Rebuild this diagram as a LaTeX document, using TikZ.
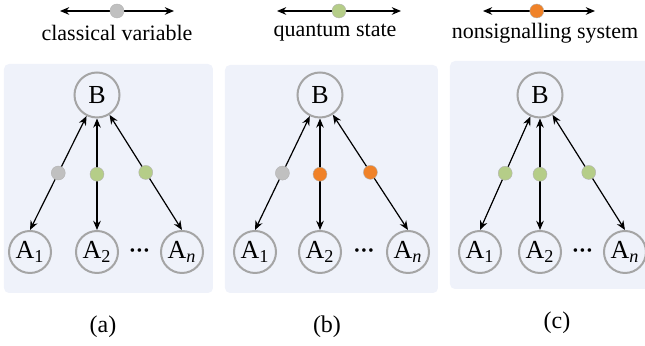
\documentclass[tikz,border=0pt]{standalone}
\usepackage{amsmath, amssymb}
\usepackage{fontspec}
\setmainfont{Liberation Serif}
\usetikzlibrary{arrows.meta, calc}
\definecolor{panel-bg}{RGB}{239, 242, 250}
\definecolor{ring-grey}{RGB}{165, 165, 165}
\definecolor{dot-grey}{RGB}{192, 192, 192}
\definecolor{dot-green}{RGB}{181, 205, 136}
\definecolor{dot-orange}{RGB}{240, 130, 40}

\begin{document}
\begin{tikzpicture}[x=0.5pt, y=-0.5pt,
        panel/.style={fill=panel-bg, rounded corners=2.5pt},
        party/.style={circle, draw=ring-grey, line width=1pt, fill=panel-bg,
                      minimum size=21pt, inner sep=0pt,
                      font=\fontsize{13}{15}\selectfont},
        hub/.style={party, minimum size=22.5pt},
        dot/.style={circle, minimum size=7pt, inner sep=0pt,
                    draw=white!70!black, line width=0.2pt},
        arr/.style={{Stealth[length=4.6pt, width=3.8pt]}-{Stealth[length=4.6pt, width=3.8pt]},
                    line width=0.6pt, black},
        legend/.style={font=\fontsize{11}{13}\selectfont},
        caption/.style={font=\fontsize{12}{14}\selectfont},
        etc/.style={inner sep=0pt, font=\fontsize{7.5}{8}\selectfont}
      ]
        \clip (0,0) rectangle (645,346);
        % legend
        \coordinate (la-l) at (60,11);  \coordinate (la-r) at (174,11);
        \coordinate (lb-l) at (277,11); \coordinate (lb-r) at (401,11);
        \coordinate (lc-l) at (483,11); \coordinate (lc-r) at (595,11);
        \draw[arr] (la-l) -- node[dot, fill=dot-grey, pos=0.5] (la-dot) {} (la-r);
        \draw[arr] (lb-l) -- node[dot, fill=dot-green, pos=0.5] (lb-dot) {} (lb-r);
        \draw[arr] (lc-l) -- node[dot, fill=dot-orange, pos=0.48] (lc-dot) {} (lc-r);
        \node[legend] (la-text) at (117,33) {classical variable};
        \node[legend] (lb-text) at (335,33) {quantum state};
        \node[legend] (lc-text) at (545,33) {nonsignalling system};
        % panels
        \fill[panel] (4,64) rectangle (213,293);
        \fill[panel] (225,65) rectangle (438,293);
        \fill[panel] (450,61) rectangle (660,289);
        \foreach \tag/\bx/\ax/\nx/\cx/\cy/\ca/\cb/\cc in
            {a/97/30/182/103/327/dot-grey/dot-green/dot-green,
             b/320/255/408/327/327/dot-grey/dot-orange/dot-orange,
             c/540/480/625/557/323/dot-green/dot-green/dot-green}{
          \node[hub] (B-\tag) at (\bx,95) {B};
          \node[party] (A1-\tag) at (\ax,252) {A\textsubscript{1}};
          \node[party] (A2-\tag) at (\bx,252) {A\textsubscript{2}};
          \node[party] (An-\tag) at (\nx,252) {A\textsubscript{\textit{n}}};
          \node[etc] (dots-\tag) at ($(A2-\tag)!0.5!(An-\tag)$)
                {•\hspace{0.9pt}•\hspace{0.9pt}•};
          \draw[arr] (B-\tag) -- node[dot, fill=\ca] (d1-\tag) {} (A1-\tag.north);
          \draw[arr] (B-\tag) -- node[dot, fill=\cb] (d2-\tag) {} (A2-\tag);
          \draw[arr] (B-\tag) -- node[dot, fill=\cc] (dn-\tag) {} (An-\tag.north);
          \node[caption] (cap-\tag) at (\cx,\cy) {(\tag)};
        }
      \end{tikzpicture}
\end{document}
